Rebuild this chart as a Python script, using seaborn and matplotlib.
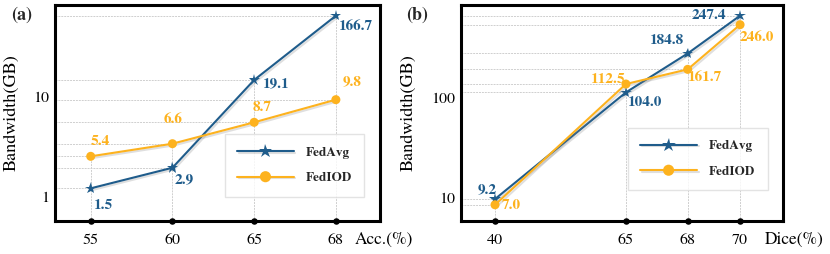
import matplotlib
matplotlib.use("Agg")
import matplotlib.pyplot as plt
import matplotlib.patheffects as pe
import seaborn as sns
import pandas as pd

# ---------------- data ----------------
a_xticklabels = ["55", "60", "65", "68"]
a_x = [0, 1, 2, 3]
a_fedavg = [1.22, 1.96, 14.8, 65.0]
a_fediod = [2.55, 3.41, 5.58, 9.4]
a_fedavg_txt = ["1.5", "2.9", "19.1", "166.7"]
a_fediod_txt = ["5.4", "6.6", "8.7", "9.8"]

b_xticklabels = ["40", "65", "68", "70"]
b_x = [0, 2.5, 3.68, 4.68]
b_fedavg = [9.7, 113.0, 277.0, 661.0]
b_fediod = [8.5, 137.0, 192.0, 537.0]
b_fedavg_txt = ["9.2", "104.0", "184.8", "247.4"]
b_fediod_txt = ["7.0", "112.5", "161.7", "246.0"]

series_names = ["FedAvg", "FedIOD"]

# ---------------- style ----------------
sns.set_theme(style="white")
plt.rcParams["font.family"] = ["TeX Gyre Termes", "Liberation Serif", "STIXGeneral", "DejaVu Serif"]
plt.rcParams["mathtext.fontset"] = "stix"

C_AVG = "#1F5C8B"
C_IOD = "#FDB21E"
GRID = "#cfcfcf"

fig = plt.figure(figsize=(8.30, 2.54), dpi=100)
W, H = 830, 254
ax_a = fig.add_axes([55 / W, 33 / H, 325 / W, 216 / H])
ax_b = fig.add_axes([461 / W, 33 / H, 322 / W, 216 / H])

shadow = [pe.SimpleLineShadow(offset=(1.2, -1.2), alpha=0.25, shadow_color="gray"), pe.Normal()]


def draw(ax, x, avg, iod, avg_txt, iod_txt, xticklabels, xlim, ylim, yticks,
         xlabel, xlabel_x, ylabel_x, avg_off, iod_off, leg_center):
    ax.set_yscale("log")
    ax.set_xlim(*xlim)
    ax.set_ylim(*ylim)

    # drop-line grid
    for xi, ya, yi in zip(x, avg, iod):
        ax.plot([xi, xi], [ylim[0], max(ya, yi)], color=GRID, lw=0.7,
                ls=(0, (2, 1)), zorder=1)
        for yv in (ya, yi):
            ax.plot([xlim[0], xi], [yv, yv], color=GRID, lw=0.7,
                    ls=(0, (2, 1)), zorder=1)
    # tick dots on bottom spine
    ax.scatter(x, [ylim[0]] * len(x), s=22, color="black", zorder=2,
               clip_on=False, linewidths=0)

    df = pd.DataFrame({"x": list(x) * 2, "y": list(avg) + list(iod),
                       "s": [series_names[0]] * len(x) + [series_names[1]] * len(x)})
    sns.lineplot(data=df, x="x", y="y", hue="s", style="s",
                 palette={series_names[0]: C_AVG, series_names[1]: C_IOD},
                 markers={series_names[0]: "*", series_names[1]: "o"},
                 dashes=False, markersize=7, markeredgewidth=0, lw=1.5,
                 ax=ax, legend=False, zorder=3)
    for ln in ax.lines[-2:]:
        ln.set_path_effects(shadow)
    ax.lines[-2].set_markersize(8.5)
    ax.lines[-1].set_markersize(6.5)

    for xi, yv, t, off in zip(x, avg, avg_txt, avg_off):
        ax.annotate(t, (xi, yv), xytext=off, textcoords="offset pixels",
                    ha="center", va="center", color=C_AVG, fontsize=11,
                    fontweight="bold", zorder=4)
    for xi, yv, t, off in zip(x, iod, iod_txt, iod_off):
        ax.annotate(t, (xi, yv), xytext=off, textcoords="offset pixels",
                    ha="center", va="center", color=C_IOD, fontsize=11,
                    fontweight="bold", zorder=4)

    ax.set_xticks(x)
    ax.set_xticklabels(xticklabels)
    ax.set_yticks(yticks)
    ax.set_yticklabels([f"{v:g}" for v in yticks])
    ax.yaxis.set_minor_locator(matplotlib.ticker.NullLocator())
    ax.tick_params(axis="x", length=0, pad=9, labelsize=11.5, colors="black")
    ax.tick_params(axis="y", direction="in", length=4.5, width=1.8, pad=4,
                   labelsize=11.5, colors="black")
    ax.set_xlabel("")
    ax.set_ylabel("Bandwidth(GB)", fontsize=13, color="black")
    ax.yaxis.set_label_coords(ylabel_x, 0.5)
    ax.text(xlabel_x, -0.088, xlabel, transform=ax.transAxes, ha="left",
            va="center", fontsize=12.5, color="black")
    for sp in ax.spines.values():
        sp.set_visible(True)
        sp.set_color("black")
        sp.set_linewidth(2.2)
        sp.set_zorder(2.5)

    handles = [
        matplotlib.lines.Line2D([], [], color=C_AVG, marker="*", markersize=10.5,
                                markeredgewidth=0, lw=1.5, path_effects=shadow),
        matplotlib.lines.Line2D([], [], color=C_IOD, marker="o", markersize=8,
                                markeredgewidth=0, lw=1.5, path_effects=shadow),
    ]
    leg = ax.legend(handles, series_names, loc="center", bbox_to_anchor=leg_center,
                    frameon=True, fancybox=False, edgecolor="#dddddd",
                    prop={"weight": "bold", "size": 9.5}, handlelength=4.3,
                    labelspacing=1.0, borderpad=0.95, handletextpad=0.9,
                    borderaxespad=0)
    leg.get_frame().set_linewidth(1.0)


draw(ax_a, a_x, a_fedavg, a_fediod, a_fedavg_txt, a_fediod_txt, a_xticklabels,
     xlim=(-0.437, 3.54), ylim=(0.575, 83.2), yticks=[1, 10],
     xlabel="Acc.(%)", xlabel_x=0.923, ylabel_x=-0.108,
     avg_off=[(13, -17), (12, -12), (22, -4), (20, -11)],
     iod_off=[(10, 15), (1, 24), (8, 15), (16, 18)],
     leg_center=(0.737, 0.257))

draw(ax_b, b_x, b_fedavg, b_fediod, b_fedavg_txt, b_fediod_txt, b_xticklabels,
     xlim=(-0.65, 5.5), ylim=(5.85, 845), yticks=[10, 100],
     xlabel="Dice(%)", xlabel_x=0.944, ylabel_x=-0.137,
     avg_off=[(-8, 9), (19, -10), (-21, 13), (-31, 0)],
     iod_off=[(16, -1), (-18, 5), (17, -8), (17, -13)],
     leg_center=(0.735, 0.287))

fig.text(22 / W, 1 - 15 / H, "(a)", ha="center", va="center", fontsize=13,
         fontweight="bold")
fig.text(417 / W, 1 - 15 / H, "(b)", ha="center", va="center", fontsize=13,
         fontweight="bold")

fig.savefig("out.png", dpi=100)
